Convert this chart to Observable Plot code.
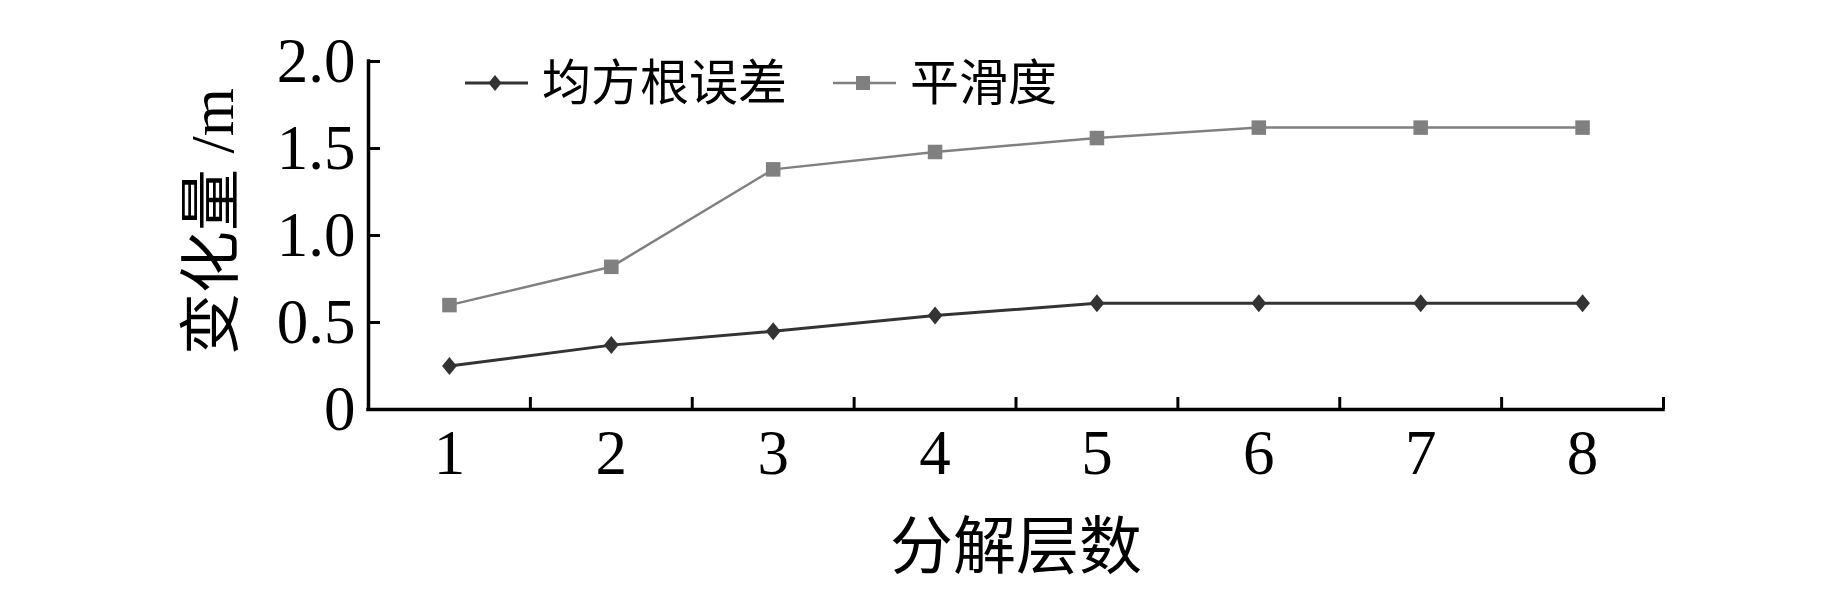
<!DOCTYPE html>
<html>
<head>
<meta charset="utf-8">
<script src="https://cdn.jsdelivr.net/npm/d3@7"></script>
<script src="https://cdn.jsdelivr.net/npm/@observablehq/plot@0.6"></script>
<style>
  body { margin: 0; background: #fff; }
  #wrap { position: relative; width: 1843px; height: 591px; background: #fff; }
  #legend { position: absolute; left: 465px; top: 53px; height: 60px; display: flex; align-items: center;
            font-family: 'Liberation Serif', 'Noto Sans CJK SC', serif; color: #000; }
  #legend span { font-size: 49px; line-height: 1; margin-left: 14px; white-space: nowrap; }
  #legend svg { display: block; }
</style>
</head>
<body>
<div id="wrap"></div>
<script>
// ---- data ----
const levels = [1, 2, 3, 4, 5, 6, 7, 8];
const rmse   = [0.25, 0.37, 0.45, 0.54, 0.61, 0.61, 0.61, 0.61];
const smooth = [0.60, 0.82, 1.38, 1.48, 1.56, 1.62, 1.62, 1.62];
const seriesNames = ["均方根误差", "平滑度"];
const yTicks = [0, 0.5, 1.0, 1.5, 2.0];
const yTickLabels = ["0", "0.5", "1.0", "1.5", "2.0"];
const xTickLabels = ["1", "2", "3", "4", "5", "6", "7", "8"];
const xLabel = "分解层数";
const yLabel = "变化量 /m";

// ---- layout ----
const W = 1843, H = 591;
const mL = 368, mR = 180, mT = 61, mB = 182;
const plotW = W - mL - mR, plotH = H - mT - mB;
const tickLen = 12;
const colRmse = "#333333", colSmooth = "#808080";
const fontFam = "'Liberation Serif', 'Noto Sans CJK SC', serif";

const rmseData = levels.map((l, i) => ({level: l, value: rmse[i]}));
const smoothData = levels.map((l, i) => ({level: l, value: smooth[i]}));
const boundaries = levels.map(l => l + 0.5);

// custom diamond symbol (slightly taller than wide)
const diamond = {
  draw(context, size) {
    const r = Math.sqrt(size / Math.PI);
    const h = r, w = r * 0.82;
    context.moveTo(0, -h);
    context.lineTo(w, 0);
    context.lineTo(0, h);
    context.lineTo(-w, 0);
    context.closePath();
  }
};

const chart = Plot.plot({
  width: W,
  height: H,
  marginLeft: mL,
  marginRight: mR,
  marginTop: mT,
  marginBottom: mB,
  style: {fontFamily: fontFam, color: "#000", background: "#fff", overflow: "visible"},
  x: {domain: [0.5, 8.5], axis: null},
  y: {domain: [0, 2], axis: null},
  marks: [
    // axis tick labels
    Plot.axisX({ticks: levels, tickSize: 0, tickPadding: 20, fontSize: 63,
                tickFormat: (d) => xTickLabels[levels.indexOf(d)], label: null}),
    Plot.axisY({ticks: yTicks, tickSize: 0, tickPadding: 13, fontSize: 63,
                tickFormat: (d) => yTickLabels[yTicks.indexOf(d)], label: null}),
    // inward tick marks
    Plot.tickX(boundaries, {x: (d) => d, insetTop: plotH - tickLen, stroke: "#000", strokeWidth: 3}),
    Plot.tickY(yTicks, {y: (d) => d, insetRight: plotW - tickLen, stroke: "#000", strokeWidth: 3}),
    // axis lines
    Plot.ruleX([0.5], {stroke: "#000", strokeWidth: 3.5, strokeLinecap: "square"}),
    Plot.ruleY([0], {stroke: "#000", strokeWidth: 3.5, strokeLinecap: "square"}),
    // axis titles
    Plot.text([xLabel], {text: (d) => d, frameAnchor: "bottom", lineAnchor: "middle", textAnchor: "middle",
                         dy: 138, fontSize: 63, fill: "#000"}),
    Plot.text([yLabel], {text: (d) => d, frameAnchor: "left", rotate: -90, lineAnchor: "middle", textAnchor: "middle",
                         dx: -155, dy: -14, fontSize: 62, fill: "#000"}),
    // series
    Plot.line(smoothData, {x: "level", y: "value", stroke: colSmooth, strokeWidth: 2.5}),
    Plot.dot(smoothData, {x: "level", y: "value", symbol: "square", r: 8.2, fill: colSmooth}),
    Plot.line(rmseData, {x: "level", y: "value", stroke: colRmse, strokeWidth: 3}),
    Plot.dot(rmseData, {x: "level", y: "value", symbol: diamond, r: 9, fill: colRmse})
  ]
});

const wrap = document.getElementById("wrap");
wrap.appendChild(chart);

// ---- legend (inside plot area, top-left) ----
const legend = d3.select(wrap).append("div").attr("id", "legend");
const items = [
  {name: seriesNames[0], color: colRmse, width: 3, sym: "diamond"},
  {name: seriesNames[1], color: colSmooth, width: 2.5, sym: "square"}
];
items.forEach((it, i) => {
  const s = legend.append("svg").attr("width", 63).attr("height", 20)
    .style("margin-left", i === 0 ? "0px" : "46px");
  s.append("line").attr("x1", 0).attr("x2", 63).attr("y1", 10).attr("y2", 10)
    .attr("stroke", it.color).attr("stroke-width", it.width);
  if (it.sym === "diamond") {
    s.append("path").attr("d", "M30,2L36.5,10L30,18L23.5,10Z").attr("fill", it.color);
  } else {
    s.append("rect").attr("x", 23).attr("y", 3).attr("width", 14).attr("height", 14).attr("fill", it.color);
  }
  legend.append("span").text(it.name);
});
</script>
</body>
</html>
